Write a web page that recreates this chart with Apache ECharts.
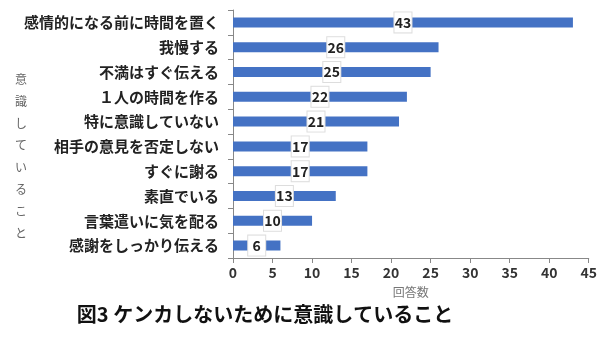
<!DOCTYPE html>
<html><head><meta charset="utf-8">
<script src="https://cdn.jsdelivr.net/npm/echarts@6/dist/echarts.min.js"></script>
<style>html,body{margin:0;padding:0;background:#fff}#c{width:600px;height:337px}</style>
</head><body><div id="c"></div>
<script>
const categories = ['感情的になる前に時間を置く','我慢する','不満はすぐ伝える','１人の時間を作る','特に意識していない','相手の意見を否定しない','すぐに謝る','素直でいる','言葉遣いに気を配る','感謝をしっかり伝える'];
const values = [43,26,25,22,21,17,17,13,10,6];
const xTicks = [0,5,10,15,20,25,30,35,40,45];
const titleText = '図3 ケンカしないために意識していること';
const yName = '意識していること';
const xName = '回答数';
const F = '"Noto Sans CJK JP", "Noto Sans", sans-serif';
const chart = echarts.init(document.getElementById('c'));
chart.setOption({
  animation: false,
  textStyle: {fontFamily: F},
  title: {text: titleText, left: 260, textAlign: 'center', top: 299,
    textStyle: {fontFamily: F, fontSize: 20, fontWeight: 'bold', color: '#111'}},
  graphic: [{type: 'text', left: 15, top: 68,
    style: {text: yName.split('').join('\n'), font: '12px ' + F, fill: '#666', lineHeight: 22}}],
  grid: {left: 233, right: 11, top: 10, bottom: 79, containLabel: false},
  xAxis: {type: 'value', min: 0, max: 45, interval: 5,
    name: xName, nameLocation: 'middle', nameGap: 28,
    nameTextStyle: {fontFamily: F, fontSize: 12, color: '#777'},
    axisLine: {show: true, lineStyle: {color: '#888'}},
    axisTick: {show: true, length: 5, lineStyle: {color: '#888'}},
    splitLine: {show: false},
    axisLabel: {fontFamily: F, fontSize: 14, fontWeight: 'bold', color: '#333', margin: 8,
      formatter: v => xTicks.includes(v) ? String(v) : ''}},
  yAxis: {type: 'category', data: categories, inverse: true,
    axisLine: {show: true, lineStyle: {color: '#888'}},
    axisTick: {show: true, length: 5, lineStyle: {color: '#888'}},
    axisLabel: {fontFamily: F, fontSize: 15, fontWeight: 'bold', color: '#222', margin: 14}},
  series: [{type: 'bar', data: values, barWidth: 10,
    itemStyle: {color: '#4472C4'},
    label: {show: true, position: 'inside', fontFamily: F, fontSize: 14, fontWeight: 'bold', color: '#222',
      backgroundColor: '#fff', borderColor: '#ddd', borderWidth: 1, padding: [3, 2, 2, 2], width: 13, height: 15, align: 'center'}}]
});
</script></body></html>
